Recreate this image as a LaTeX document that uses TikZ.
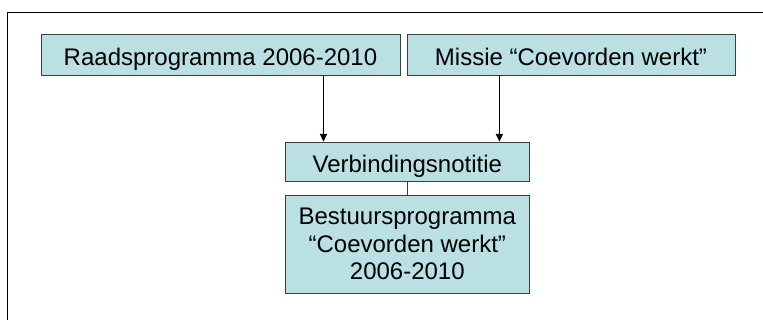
\documentclass[tikz,border=0pt]{standalone}
\usepackage{fontspec}
\setmainfont{Liberation Sans}
\usepackage{tikz}
\usetikzlibrary{arrows.meta,positioning}
\definecolor{boxfill}{HTML}{BBE0E3}
\definecolor{boxline}{HTML}{3A3F40}

\begin{document}
\begin{tikzpicture}[x=1pt,y=-1pt,every node/.style={font=\fontsize{24}{27.8}\selectfont},
   bx/.style={rectangle,draw=boxline,line width=0.9pt,fill=boxfill,inner sep=0pt,align=center},
   one/.style={text height=21pt,text depth=0pt},
   arr/.style={-{Triangle[length=8pt,width=7pt]},line width=1.8pt,black}]
  \useasboundingbox (0,0) rectangle (763,320);
  \draw[line width=1.3pt] (7.3,320) -- (7.3,12.3) -- (763,12.3);
  \node[bx,one,minimum width=359pt,minimum height=40.5pt] (raad) at (220.5,54.75) {Raadsprogramma 2006-2010};
  \node[bx,one,minimum width=328pt,minimum height=40.5pt] (missie) at (571,54.75) {Missie “Coevorden werkt”};
  \node[bx,one,minimum width=243.3pt,minimum height=39.5pt] (verb) at (407.3,162) {Verbindingsnotitie};
  \node[bx,minimum width=243.3pt,minimum height=98pt] (best) at (407.3,244) {Bestuursprogramma\\“Coevorden werkt”\\2006-2010};
  \draw[arr] ([xshift=38.3pt]verb.north west |- raad.south) -- ([xshift=38.3pt]verb.north west);
  \draw[arr] ([xshift=-30pt]verb.north east |- missie.south) -- ([xshift=-30pt]verb.north east);
  \draw[boxline,line width=0.6pt] (verb) -- (best);
\end{tikzpicture}
\end{document}
